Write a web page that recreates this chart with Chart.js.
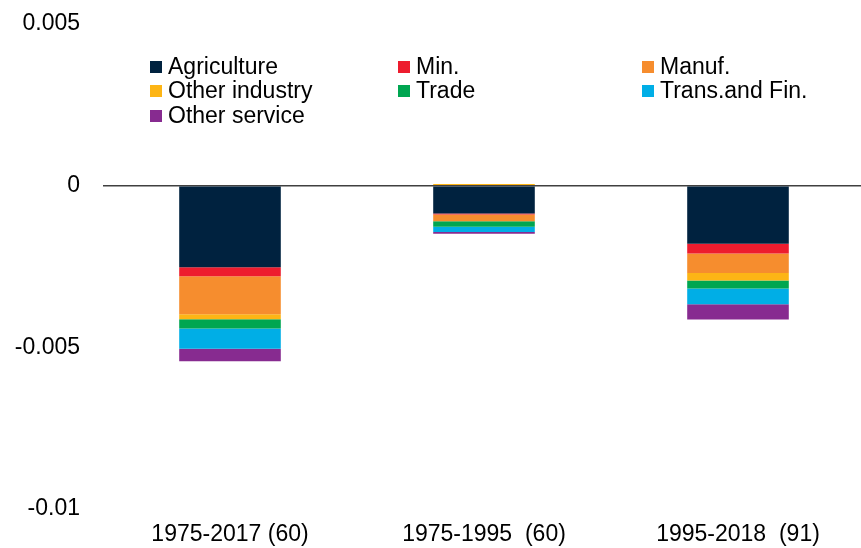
<!DOCTYPE html>
<html>
<head>
<meta charset="utf-8">
<script src="https://cdn.jsdelivr.net/npm/chart.js@4/dist/chart.umd.min.js"></script>
<style>
  html, body { margin: 0; padding: 0; background: #fff; overflow: hidden; }
  #wrap { width: 861px; height: 548px; position: relative; overflow: hidden; }
</style>
</head>
<body>
<div id="wrap"><canvas id="chart"></canvas></div>
<script>
// categories (periods)
const periods = ['1975-2017 (60)', '1975-1995  (60)', '1995-2018  (91)'];

// sector contributions
const agriculture   = [-0.00252, -0.00086, -0.00180];
const mining        = [-0.00028, -0.00003, -0.00030];
const manufacturing = [-0.00118, -0.00021, -0.00060];
const otherIndustry = [-0.00015,  0.00005, -0.00023];
const trade         = [-0.00029, -0.00017, -0.00025];
const transFin      = [-0.00062, -0.00016, -0.00049];
const otherService  = [-0.00039, -0.00006, -0.00047];

const seriesNames  = ['Agriculture', 'Min.', 'Manuf.', 'Other industry', 'Trade', 'Trans.and Fin.', 'Other service'];
const seriesValues = [agriculture, mining, manufacturing, otherIndustry, trade, transFin, otherService];
const seriesColors = ['#00223f', '#ed1c2e', '#f68d2e', '#fdb515', '#00a651', '#00aee6', '#872b90'];

const FONT = "'Liberation Sans', Arial, sans-serif";
const FONT_SIZE = 23;

// legend in three columns inside the plot
const gridLegend = {
    id: 'gridLegend',
    afterDraw(chart) {
        const ctx = chart.ctx;
        const colX = [150, 398, 642];
        const rowY = [67, 91, 116];
        ctx.save();
        ctx.font = FONT_SIZE + 'px ' + FONT;
        ctx.textBaseline = 'middle';
        chart.data.datasets.forEach((ds, i) => {
            const x = colX[i % 3];
            const y = rowY[Math.floor(i / 3)];
            ctx.fillStyle = ds.backgroundColor;
            ctx.fillRect(x, y - 6, 12, 12);
            ctx.fillStyle = '#000';
            ctx.fillText(ds.label, x + 18, y + 1);
        });
        ctx.restore();
    }
};

const chartData = {
    labels: periods,
    datasets: seriesNames.map((name, i) => ({
        label: name,
        data: seriesValues[i],
        backgroundColor: seriesColors[i],
        categoryPercentage: 1,
        barPercentage: 0.40
    }))
};

const chartOption = {
    responsive: false,
    animation: false,
    layout: { padding: { top: 24, right: 0, left: 0, bottom: 0 } },
    plugins: {
        legend: { display: false },
        tooltip: { enabled: false }
    },
    scales: {
        x: {
            stacked: true,
            grid: { display: false },
            border: { display: false },
            ticks: { color: '#000', font: { family: FONT, size: FONT_SIZE }, padding: 4 },
            afterFit(scale) { scale.height = 39; }
        },
        y: {
            stacked: true,
            min: -0.01,
            max: 0.005,
            border: { display: false },
            grid: {
                drawTicks: true,
                tickLength: 23,
                tickColor: 'rgba(0,0,0,0)',
                color: c => (c.tick && Math.abs(c.tick.value) < 1e-9 ? '#404040' : 'rgba(0,0,0,0)'),
                lineWidth: 1.5
            },
            ticks: {
                stepSize: 0.005,
                color: '#000',
                padding: 0,
                font: { family: FONT, size: FONT_SIZE },
                callback: v => String(+v.toFixed(3))
            },
            afterFit(scale) { scale.width = 103; }
        }
    }
};

// canvas a little wider than the window, the plot runs off the right edge as in the original
const canvas = document.getElementById('chart');
canvas.width = 865;
canvas.height = 548;
new Chart(canvas, {
    type: 'bar',
    data: chartData,
    options: chartOption,
    plugins: [gridLegend]
});
</script>
</body>
</html>
